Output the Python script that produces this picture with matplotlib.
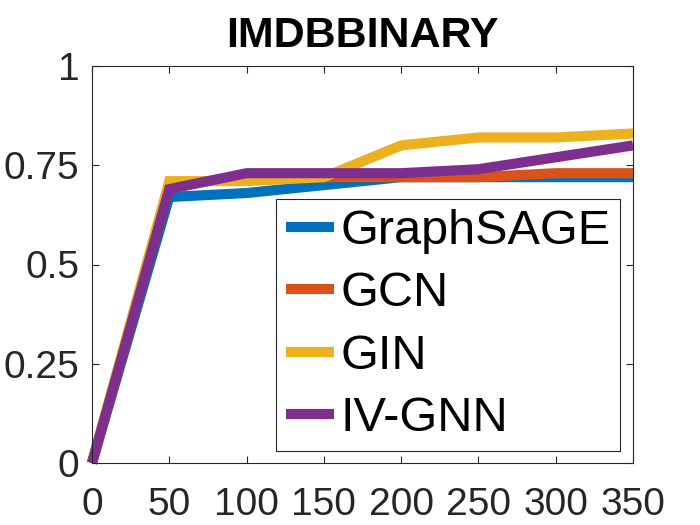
import matplotlib
matplotlib.use("Agg")
import matplotlib.pyplot as plt

plt.rcParams["font.family"] = ["Liberation Sans", "DejaVu Sans"]

epochs = [0, 50, 100, 150, 200, 250, 300, 350]
graphsage = [0, 0.67, 0.68, 0.70, 0.72, 0.72, 0.72, 0.72]
gcn = [0, 0.70, 0.72, 0.72, 0.72, 0.72, 0.73, 0.73]
gin = [0, 0.71, 0.71, 0.72, 0.80, 0.82, 0.82, 0.83]
ivgnn = [0, 0.69, 0.73, 0.73, 0.73, 0.74, 0.77, 0.80]

series = [
    ("GraphSAGE", graphsage, "#0072BD"),
    ("GCN", gcn, "#D95319"),
    ("GIN", gin, "#EDB120"),
    ("IV-GNN", ivgnn, "#7E2F8E"),
]
xticks = [0, 50, 100, 150, 200, 250, 300, 350]
yticks = [0, 0.25, 0.5, 0.75, 1]
ytick_labels = ["0", "0.25", "0.5", "0.75", "1"]

fig = plt.figure(figsize=(7, 5.25), dpi=100)
ax = fig.add_axes([92 / 700, 62 / 525, 541 / 700, 397 / 525])

for name, values, color in series:
    ax.plot(epochs, values, color=color, linewidth=7.3, label=name,
            solid_capstyle="butt", solid_joinstyle="miter", clip_on=False)

ax.set_xlim(0, 350)
ax.set_ylim(0, 1)
ax.set_xticks(xticks)
ax.set_yticks(yticks)
ax.set_yticklabels(ytick_labels)
ax.tick_params(direction="in", length=5, width=0.8, labelsize=28,
               top=True, right=True, colors="#262626")
ax.tick_params(axis="x", pad=17)
ax.tick_params(axis="y", pad=9)
for spine in ax.spines.values():
    spine.set_linewidth(0.8)
    spine.set_color("#262626")

ax.set_title("IMDBBINARY", fontsize=31, fontweight="bold", pad=14)

leg = ax.legend(loc="lower right", bbox_to_anchor=(0.976, 0.03),
                borderaxespad=0, fontsize=35, fancybox=False,
                handlelength=1.0, handletextpad=0.12, labelspacing=0.36,
                borderpad=0.2, framealpha=1)
leg.get_frame().set_edgecolor("#262626")
leg.get_frame().set_linewidth(0.8)

fig.savefig("out.png", dpi=100)
